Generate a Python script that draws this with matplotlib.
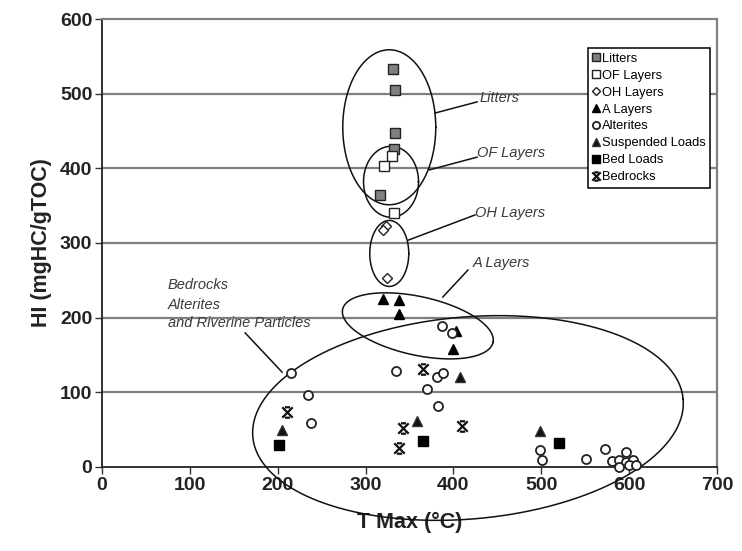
import numpy as np
import matplotlib
matplotlib.use("Agg")
import matplotlib.pyplot as plt
from matplotlib.path import Path

plt.rcParams["font.family"] = ["Liberation Sans", "DejaVu Sans"]

# ---------------------------------------------------------------------------
# Data (Tmax in degC, HI in mgHC/gTOC)
# ---------------------------------------------------------------------------
litters_t = [331, 334, 334, 332, 317]
litters_hi = [533, 505, 447, 426, 364]

of_t = [330, 321, 332]
of_hi = [416, 403, 340]

oh_t = [323, 320, 324]
oh_hi = [323, 317, 253]

a_t = [320, 338, 338, 403, 400]
a_hi = [225, 224, 205, 182, 158]

alter_t = [215, 234, 238, 335, 370, 381, 388, 383, 387, 398,
           499, 501, 551, 573, 581, 589, 597, 596, 604, 589, 600, 608]
alter_hi = [126, 96, 59, 128, 104, 120, 126, 82, 189, 179,
            23, 9, 11, 24, 8, 9, 20, 7, 9, 0, 2, 3]

susp_t = [205, 358, 407, 499]
susp_hi = [49, 62, 120, 48]

bed_t = [202, 365, 520]
bed_hi = [29, 35, 32]

rock_t = [211, 365, 343, 338, 410]
rock_hi = [74, 131, 52, 25, 55]

x_ticks = [0, 100, 200, 300, 400, 500, 600, 700]
y_ticks = [0, 100, 200, 300, 400, 500, 600]

# bedrock marker: a bold X with short serifs top and bottom
rock_marker = Path(
    [(-1, -1), (1, 1), (-1, 1), (1, -1), (-0.5, 1), (0.5, 1), (-0.5, -1), (0.5, -1)],
    [Path.MOVETO, Path.LINETO] * 4,
)

fig = plt.figure(figsize=(7.42, 5.51), dpi=100)
ax = fig.add_axes([0.1375, 0.1525, 0.8287, 0.813])
ax.set_xlim(0, 700)
ax.set_ylim(0, 600)

# px per data unit, used to draw the ellipses in screen proportions
sx = 7.42 * 100 * 0.8287 / 700
sy = 5.51 * 100 * 0.813 / 600


def draw_ellipse(cx, cy, a_px, b_px, angle_deg):
    t = np.linspace(0, 2 * np.pi, 300)
    th = np.radians(angle_deg)
    u = a_px * np.cos(t)
    v = b_px * np.sin(t)
    ax.plot(cx + (u * np.cos(th) - v * np.sin(th)) / sx,
            cy + (u * np.sin(th) + v * np.cos(th)) / sy,
            color="#111111", lw=1.1, zorder=4, clip_on=False)


for yv in [100, 200, 300, 400, 500]:
    ax.axhline(yv, color="#7f7f7f", lw=1.6, zorder=1)

mk = dict(linestyle="none", ms=6.5, mew=1.0, zorder=5, clip_on=False)
ax.plot(litters_t, litters_hi, marker="s", mfc="#808080", mec="#222222", label="Litters", **mk)
ax.plot(of_t, of_hi, marker="s", mfc="white", mec="#222222", label="OF Layers", **mk)
ax.plot(oh_t, oh_hi, marker="D", mfc="white", mec="#222222", label="OH Layers",
        **{**mk, "ms": 5.2})
ax.plot(a_t, a_hi, marker="^", mfc="black", mec="black", label="A Layers", **mk)
ax.plot(alter_t, alter_hi, marker="o", mfc="white", mec="#222222", label="Alterites",
        **{**mk, "mew": 1.3})
ax.plot(susp_t, susp_hi, marker="^", mfc="#111111", mec="#333333", label="Suspended Loads", **mk)
ax.plot(bed_t, bed_hi, marker="s", mfc="black", mec="black", label="Bed Loads", **mk)
ax.plot(rock_t, rock_hi, marker=rock_marker, mfc="none", mec="#111111", label="Bedrocks",
        **{**mk, "mew": 1.6, "ms": 7.5})

# group ellipses
draw_ellipse(327, 455, 46.5, 77.5, 0)
draw_ellipse(329, 382, 27.5, 35.5, 0)
draw_ellipse(327, 286, 19.5, 33, 0)
draw_ellipse(359.5, 189, 77, 29.3, -12.4)
draw_ellipse(416.6, 65.6, 216, 101, 5)

# annotation labels with leader lines
note = dict(fontsize=10.5, style="italic", color="#3a3a3a", va="center", ha="left")
lead = dict(color="#111111", lw=1.1, zorder=4)
ax.text(430, 494, "Litters", **note)
ax.plot([379, 427], [474, 489], **lead)
ax.text(427, 420.5, "OF Layers", **note)
ax.plot([373, 427], [398, 415], **lead)
ax.text(424.5, 340, "OH Layers", **note)
ax.plot([349, 424.5], [304, 337.5], **lead)
ax.text(422, 273, "A Layers", **note)
ax.plot([388, 416.6], [227.7, 263.8], **lead)
ax.text(75, 243.7, "Bedrocks", **note)
ax.text(75, 217, "Alterites", **note)
ax.text(75, 193, "and Riverine Particles", **note)
ax.plot([163, 205], [179.5, 127], **lead)

ax.set_xticks(x_ticks)
ax.set_yticks(y_ticks)
ax.tick_params(labelsize=14, length=5, width=1.0, color="#333333", pad=2)
for lab in ax.get_xticklabels() + ax.get_yticklabels():
    lab.set_fontweight("bold")
    lab.set_color("#222222")

ax.spines["left"].set_color("#222222")
ax.spines["bottom"].set_color("#222222")
ax.spines["left"].set_linewidth(1.3)
ax.spines["bottom"].set_linewidth(1.3)
ax.spines["top"].set_color("#808080")
ax.spines["right"].set_color("#808080")
ax.spines["top"].set_linewidth(1.6)
ax.spines["right"].set_linewidth(1.6)

ax.set_xlabel("T Max (°C)", fontsize=15.5, fontweight="bold", color="#222222", labelpad=13)
ax.set_ylabel("HI (mgHC/gTOC)", fontsize=15.5, fontweight="bold", color="#222222", labelpad=6)

leg = ax.legend(loc="upper right", bbox_to_anchor=(0.989, 0.935), fontsize=9.3,
                frameon=True, fancybox=False, edgecolor="black", framealpha=1,
                handlelength=0.6, handletextpad=0.15, borderpad=0.35,
                labelspacing=0.38, borderaxespad=0, markerscale=0.8)
leg.get_frame().set_linewidth(1.1)
leg.set_zorder(6)

fig.savefig("out.png", dpi=100)
